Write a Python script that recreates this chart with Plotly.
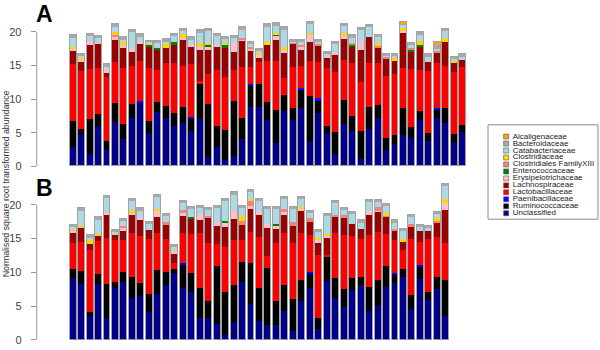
import plotly.graph_objects as go

# ---------------- data (stack order: bottom -> top) ----------------
families = ["Unclassified", "Ruminococcaceae", "Paenibacillaceae", "Lactobacillaceae",
            "Lachnospiraceae", "Erysipelotrichaceae", "Enterococcaceae",
            "Clostridiales FamilyXIII", "Clostridiaceae", "Catabacteriaceae",
            "Bacteroidaceae", "Alcaligenaceae"]
family_colors = ["#00008B", "#000000", "#0000FF", "#FF0000", "#9A0000", "#FFC0CB",
                 "#008000", "#FA8072", "#FFD700", "#ADD8E6", "#A9A9A9", "#FFA500"]

# Panel A (47 samples)
A_unclassified = [2.85,4.65,1.8,6.0,2.5,6.6,4.1,7.2,9.5,4.85, 8.1,7.1,5.9,6.4,5.15,7.05,1.4,2.85,0.9,1.45,
                  4.1,8.75,8.75,6.8,3.5,8.15,6.9,8.6,3.75,7.85, 4.85,1.8,6.3,5.2,1.05,5.45,7.1,2.45,3.25,4.55,
                  4.2,6.8,3.7,7.2,6.4,3.5,5.05]
A_rumino = [3.9,0.85,5.2,1.7,1.3,2.75,2.15,2.0,0,1.9, 1.4,1.9,2.0,2.35,1.85,5.15,7.9,3.15,4.4,8.2,
            3.1,3.25,3.4,2.75,4.85,2.35,1.7,2.75,6.65,1.8, 1.15,3.2,3.5,2.3,4.15,3.3,2.0,1.75,1.3,4.05,
            1.65,1.4,1.25,1.2,2.2,1.2,1.1]
A_paeni = [0,0,0,0,0,0,0,0,0.2,0, 0,0,0,0,0.3,0,0,0,0,0, 0,0.2,0,0,0,0,0,0.2,0,0.4,
           0,0,0,0,0,0,0,0,0,0, 0,0,0,0.2,0,0,0]
A_lacto = [8.35,8.7,7.4,6.85,9.5,6.05,8.3,5.7,5.9,7.85, 4.8,6.25,7.35,6.15,7.85,0.5,4.4,8.3,7.9,4.65,
           7.45,2.55,3.25,6.0,7.25,2.6,6.05,3.35,5.2,5.35, 8.55,9.0,6.0,7.75,7.35,6.5,6.15,9.2,9.15,5.9,
           8.55,6.15,9.15,6.65,6.2,9.25,8.5]
A_lachno = [2.1,1.3,3.65,3.6,0.6,3.3,2.95,2.05,2.6,3.2, 2.9,2.35,2.7,3.8,2.55,4.5,3.5,3.4,4.4,2.7,
            4.0,2.35,0.7,2.4,3.2,3.75,3.5,2.4,2.85,2.4, 1.55,2.5,3.1,2.45,4.75,4.0,2.4,2.45,1.9,5.25,
            2.6,3.45,1.4,1.6,3.65,1.3,1.1]
A_erysipelo = [0.2,0.2,0.55,0.1,0.5,0.5,0.5,0.4,0.45,0, 0,0,0,0.3,0.5,0.5,0.6,0.35,0,1.3,
               0.15,0.3,0.4,0,0.6,0.35,0,0.4,1.15,0, 0.3,0.5,0.4,0,1.35,0,0,0,0,0.35,
               0,0,0,0,0,0,0]
A_entero = [0,0,0,0,0,0,0,0,0,0.2, 0.4,0,0.5,0,0,0,0.2,0,0.4,0, 0,0,0,0,0.15,0,0,0,0,0,
            0,0,0,0.25,0,0,0,0,0,0, 0.3,0.25,0,0,0,0,0]
A_clos13 = [0.1,0,0,0,0,0.25,0,0,0,0, 0,0,0,0,0,0,0,0,0,0, 0.2,0.3,0,0,0,0,0.2,0.3,0,0.35,
            0,0,0,0.3,0,0,0.2,0.3,0,0, 0.3,0,0,0.2,0,0,0]
A_clostri = [0.2,0.4,0,0,0,0.5,0.45,0,0,0.15, 0,0.55,0,0.6,0,0.6,0.3,0,0.35,0, 0,0,0.35,0.55,0.2,0.45,0,0,0.15,0,
             0,0,0.45,0,0,0,0.45,0,0.4,0.4, 0,0.5,0,0,0.55,0.4,0]
A_catab = [1.4,0.3,0.7,0.85,0.35,0.75,0.35,2.5,0.6,0.3, 0.7,0.3,0.85,0.4,0.6,1.45,1.8,1.25,0.6,0.7,
           1.25,0.45,0.25,2.2,1.2,2.6,0.15,0.55,1.45,0.3, 0.3,1.1,1.15,0.85,1.6,1.45,0.95,0.3,0.5,0.5,
           0.4,0.95,0.7,0.3,1.1,0.35,0.6]
A_bactero = [0.35,0.2,0.35,0.3,0.35,0.35,0.4,0.4,0.35,0.2, 0.35,0.45,0.3,0.4,0.4,0.5,0.3,0.3,0.3,0.35,
             0.35,0.25,0.25,0.35,0.25,0.35,0.3,0.25,0.25,0.35, 0.3,0.3,0.25,0.4,0.25,0.2,0.25,0.25,0.2,0.25,
             0.25,0.4,0.4,0.6,0.25,0.2,0.25]
A_alcali = [0,0,0,0,0,0,0,0,0,0, 0,0,0,0,0,0,0,0,0,0, 0,0,0,0,0,0,0,0,0,0,
            0,0,0,0,0,0,0,0,0,0.2, 0,0,0,0.45,0,0,0]

# Panel B (45 samples)
B_unclassified = [9.0,8.25,3.45,8.25,3.2,7.7,8.5,6.1,6.45,4.05, 6.8,8.15,9.85,7.7,7.1,3.2,3.15,2.35,0.7,2.6,
                  8.5,5.25,2.8,2.1,2.1,4.3,1.35,5.75,7.65,1.6, 8.75,6.2,4.9,7.3,7.9,4.3,5.0,7.8,8.4,9.35,
                  4.6,9.0,5.8,7.55,3.55]
B_rumino = [1.45,1.9,0.6,1.45,5.05,0.8,1.5,3.2,1.95,2.75, 3.45,1.8,0.6,3.4,2.7,4.5,2.6,8.55,6.35,5.55,
            3.05,6.05,4.85,8.5,3.65,3.85,4.7,3.1,2.1,1.55, 3.55,2.9,2.6,1.8,1.45,3.5,3.8,3.1,1.2,1.1,
            1.95,1.8,1.25,1.7,5.25]
B_paeni = [0,0,0,0,0,0,0,0,0,0, 0,0,0,0.2,0,0,0,0,0,0, 0,0,0,0,0,0,0,0,0.2,0,
           0,0,0,0,0,0,0,0,0.25,0, 0,0.25,0,0,0]
B_lacto = [3.9,4.3,9.3,4.9,6.85,6.2,4.8,6.5,6.9,8.05, 5.55,5.0,0.95,4.5,5.9,8.05,8.55,3.3,6.7,6.55,
           3.15,4.6,7.55,1.8,8.55,7.65,8.25,6.95,5.5,9.45, 0.2,6.7,7.95,6.2,5.6,7.65,7.1,4.8,4.85,2.8,
           8.4,3.4,7.9,5.95,5.5]
B_lachno = [1.45,2.2,0.85,0.7,3.4,0.75,1.35,2.65,2.4,1.4, 2.3,2.0,1.3,2.55,2.15,1.95,3.65,2.7,2.9,3.15,
            2.35,3.4,3.3,4.15,2.1,2.7,2.6,3.3,2.05,1.7, 2.5,2.3,2.55,1.9,1.45,3.05,3.1,2.5,1.5,1.2,
            1.8,1.6,1.1,2.2,4.95]
B_erysipelo = [0.3,0,0,0,0.35,0,0.5,0.35,0.5,0, 0.9,0,0.3,0.45,0,0.85,0,0.5,0.6,1.15,
               0,0.5,0.5,0.55,0.4,0.45,0,0.25,0,0.5, 0.35,0,0,0,0,0.5,0.1,0,0,0,
               0,0,0,0,1.05]
B_entero = [0,0,0,0,0,0,0,0,0,0, 0,0,0,0,0.35,0,0,0,0.35,0, 0,0,0,0,0.4,0,0,0,0,0,
            0,0,0,0,0,0,0,0,0,0, 0,0,0,0,0]
B_clos13 = [0,0,0,0,0,0,0.25,0,0,0, 0,0.55,0,0.4,0,0,0.4,0,0,0, 0.55,0.75,0,0,0,0.35,0.5,0,0.5,0,
            0,0.4,0.5,0,0,0,0.6,0.15,0.25,0, 0.35,0,0,0.2,0]
B_clostri = [0.2,0.25,0.5,0.3,0,0.3,0,0.35,0,0, 0.3,0,0.2,0,0,0,0,0,0,0, 0.75,0.25,0,0,0,0,0,0.3,0,0.3,
             0.35,0,0,0,0,0,0,0.4,0,0.4, 0,0,0,0.4,0.6]
B_catab = [0.5,2.3,0.5,2.25,2.15,0.25,0.7,1.35,1.0,1.0, 1.8,0.85,0.6,1.1,1.2,0.9,0.95,2.1,2.9,2.5,
           1.2,1.1,1.5,2.2,2.25,1.6,2.05,1.15,0.85,0.95, 2.65,1.8,0.8,1.5,1.0,1.45,0.75,1.05,0.95,1.3,
           1.1,0.7,0.5,0.7,1.9]
B_bactero = [0.25,0.25,0.25,0.25,0.25,0.25,0.25,0.3,0.25,0.25, 0.3,0.25,0.25,0.2,0.25,0.35,0.25,0.3,0.3,0.3,
             0.25,0.3,0.3,0.3,0.25,0.3,0.25,0.3,0.25,0.25, 0.3,0.25,0.25,0.25,0.25,0.25,0.3,0.3,0.25,0.25,
             0.25,0.25,0.3,0.25,0.3]
B_alcali = [0] * 45

y_ticks = [0, 5, 10, 15, 20]
y_title = "Normalised square root transformed abundance"
panel_labels = ["A", "B"]

panel_A = [A_unclassified, A_rumino, A_paeni, A_lacto, A_lachno, A_erysipelo, A_entero,
           A_clos13, A_clostri, A_catab, A_bactero, A_alcali]
panel_B = [B_unclassified, B_rumino, B_paeni, B_lacto, B_lachno, B_erysipelo, B_entero,
           B_clos13, B_clostri, B_catab, B_bactero, B_alcali]

# ---------------- figure ----------------
FONT = "Liberation Sans, Arial, Helvetica, sans-serif"
BAR_W = 0.82
fig = go.Figure()

for panel, (xa, ya, xo) in zip([panel_A, panel_B], [("x", "y", "x3"), ("x2", "y2", "x4")]):
    n = len(panel[0])
    xs = list(range(n))
    for fam, col, vals in zip(families, family_colors, panel):
        fig.add_trace(go.Bar(x=xs, y=vals, marker=dict(color=col, line=dict(width=0)),
                             width=BAR_W, xaxis=xa, yaxis=ya, showlegend=False,
                             hoverinfo="skip", name=fam))
    totals = [sum(v[i] for v in panel) for i in range(n)]
    fig.add_trace(go.Bar(x=xs, y=totals, width=BAR_W, xaxis=xo, yaxis=ya,
                         marker=dict(color="rgba(0,0,0,0)", line=dict(color="#a3a3a3", width=1)),
                         showlegend=False, hoverinfo="skip"))

# custom compact legend (alphabetical, top to bottom)
leg_names = families[::-1]
leg_cols = family_colors[::-1]
leg_y = list(range(len(leg_names)))[::-1]
fig.add_trace(go.Scatter(x=[0.165] * len(leg_names), y=leg_y, mode="markers",
                         marker=dict(symbol="square", size=5, color=leg_cols,
                                     line=dict(color="#555", width=0.6)),
                         xaxis="x5", yaxis="y5", showlegend=False, hoverinfo="skip"))
fig.add_trace(go.Scatter(x=[0.225] * len(leg_names), y=leg_y, mode="text", text=leg_names,
                         textposition="middle right",
                         textfont=dict(family=FONT, size=8, color="#222"),
                         xaxis="x5", yaxis="y5", showlegend=False, hoverinfo="skip"))

XDOM = [36.7 / 600, 479.4 / 600]
XR = [-4.266, 48]
noax = dict(visible=False, showgrid=False, zeroline=False)
yax = dict(tickvals=y_ticks, ticks="outside", ticklen=5, tickcolor="#999", tickwidth=1,
           showline=False, showgrid=False, zeroline=False,
           tickfont=dict(family=FONT, size=11, color="#444"), ticklabelstandoff=7)

fig.update_layout(
    width=600, height=350, margin=dict(l=0, r=0, t=0, b=0),
    paper_bgcolor="white", plot_bgcolor="white", barmode="stack", bargap=0,
    xaxis=dict(domain=XDOM, range=XR, anchor="y", **noax),
    yaxis=dict(domain=[(350 - 169.3) / 350, (350 - 18.6) / 350], range=[0, 22], anchor="x", **yax),
    xaxis2=dict(domain=XDOM, range=XR, anchor="y2", **noax),
    yaxis2=dict(domain=[(350 - 345.7) / 350, (350 - 184.3) / 350], range=[0, 23.5], anchor="x2", **yax),
    xaxis3=dict(range=XR, overlaying="x", anchor="y", **noax),
    xaxis4=dict(range=XR, overlaying="x2", anchor="y2", **noax),
    xaxis5=dict(domain=[488 / 600, 598 / 600], range=[0, 1], anchor="y5", **noax),
    yaxis5=dict(domain=[(350 - 223) / 350, (350 - 127) / 350], range=[-0.85, 12.69], anchor="x5", **noax),
    shapes=[
        dict(type="line", xref="x domain", yref="y", x0=0, x1=0, y0=y_ticks[0], y1=y_ticks[-1],
             line=dict(color="#999", width=1)),
        dict(type="line", xref="x2 domain", yref="y2", x0=0, x1=0, y0=y_ticks[0], y1=y_ticks[-1],
             line=dict(color="#999", width=1)),
        dict(type="rect", xref="paper", yref="paper", x0=488 / 600, x1=598 / 600,
             y0=(350 - 223) / 350, y1=(350 - 127) / 350, line=dict(color="#8a8a8a", width=1)),
    ],
    annotations=[
        dict(text="<b>%s</b>" % panel_labels[0], x=44 / 600, y=1.0, xref="paper", yref="paper",
             showarrow=False, font=dict(family=FONT, size=23, color="black"), xanchor="center", yanchor="top",
             borderpad=0),
        dict(text="<b>%s</b>" % panel_labels[1], x=44 / 600, y=(350 - 177) / 350, xref="paper", yref="paper",
             showarrow=False, font=dict(family=FONT, size=23, color="black"), xanchor="center", yanchor="top",
             borderpad=0),
        dict(text=y_title, x=6 / 600, y=(350 - 187.5) / 350, xref="paper", yref="paper", textangle=-90,
             showarrow=False, font=dict(family=FONT, size=8.8, color="#333"), xanchor="center", yanchor="middle"),
    ],
)

fig.write_html("out.html")
